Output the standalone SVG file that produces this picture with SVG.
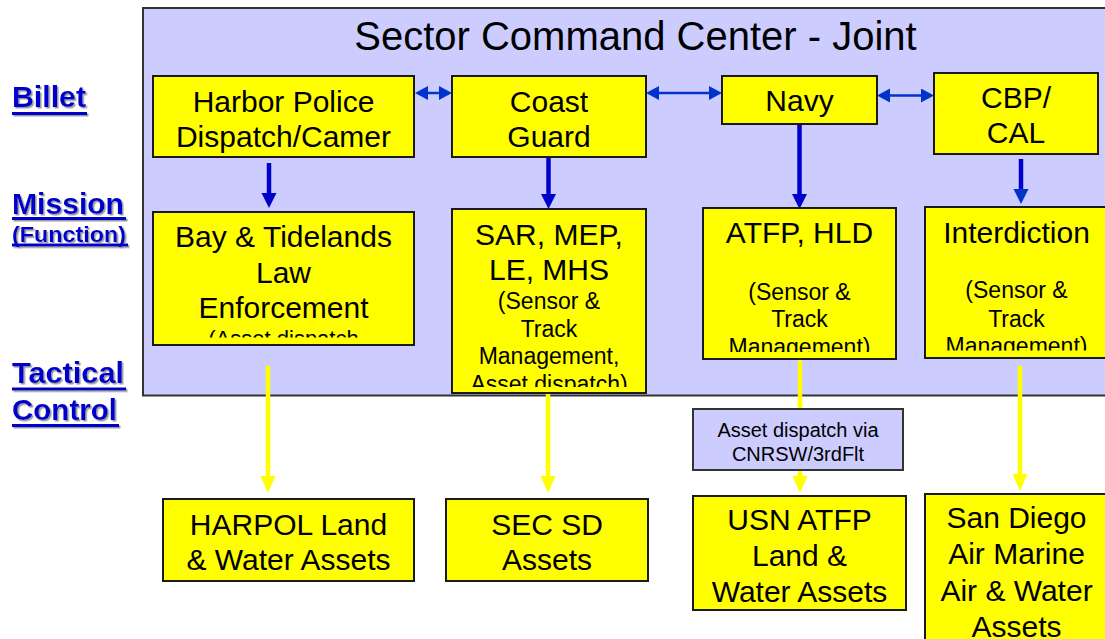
<svg xmlns="http://www.w3.org/2000/svg" width="1105" height="639" viewBox="0 0 1105 639">
<style>
text{font-family:"Liberation Sans",Arial,sans-serif;fill:#000;text-anchor:middle}
.big{font-size:30px}
.sm{font-size:23px}
.title{font-size:40px}
.lbl{font-size:20px}
.side{font-size:29px;font-weight:bold;fill:#0000CC;text-anchor:start}
.sideS{font-size:22.5px;font-weight:bold;fill:#0000CC;text-anchor:start}
.box{fill:#FFFF00;stroke:#1a1a1a;stroke-width:2}
.pane{fill:#CCCCFF;stroke:#333;stroke-width:2}
.ul{fill:#0000CC}
.blue{stroke:#0000CC;stroke-width:4.5;fill:none}
.blue2{stroke:#0033CC;stroke-width:2.5;fill:none}
.yel{stroke:#FFFF00;stroke-width:4.5;fill:none}
</style>
<defs>
<marker id="hb" markerUnits="userSpaceOnUse" markerWidth="16" markerHeight="16" refX="0" refY="7.5" orient="auto"><path d="M0,0 L15,7.5 L0,15 z" fill="#0000CC"/></marker>
<marker id="hb2" markerUnits="userSpaceOnUse" markerWidth="16" markerHeight="16" refX="0" refY="7.5" orient="auto"><path d="M0,0 L15,7.5 L0,15 z" fill="#0033CC"/></marker>
<marker id="hd" markerUnits="userSpaceOnUse" markerWidth="14" markerHeight="15" refX="0" refY="7" orient="auto-start-reverse"><path d="M0,0 L13,7 L0,14 z" fill="#0033CC"/></marker>
<marker id="hy" markerUnits="userSpaceOnUse" markerWidth="18" markerHeight="16" refX="0" refY="7.5" orient="auto"><path d="M0,0 L17,7.5 L0,15 z" fill="#FFFF00"/></marker>
<filter id="sh" x="-10%" y="-10%" width="130%" height="140%"><feDropShadow dx="1.5" dy="1.5" stdDeviation="0.3" flood-color="#9a9a9a" flood-opacity="1"/></filter>
<clipPath id="cBay"><rect x="153" y="212" width="261" height="125.5"/></clipPath>
<clipPath id="cSar"><rect x="452" y="209" width="194" height="178"/></clipPath>
<clipPath id="cAtfp"><rect x="703" y="208" width="193" height="144"/></clipPath>
<clipPath id="cInt"><rect x="925" y="207" width="185" height="143.5"/></clipPath>
</defs>

<g id="side-labels" filter="url(#sh)">
<text class="side" x="12" y="107.3" textLength="74" lengthAdjust="spacingAndGlyphs">Billet</text>
<rect class="ul" x="12" y="112" width="75" height="3"/>
<text class="side" x="12" y="214.3" textLength="112" lengthAdjust="spacingAndGlyphs">Mission</text>
<rect class="ul" x="12" y="217" width="114" height="3"/>
<text class="sideS" x="12" y="241.5" textLength="114" lengthAdjust="spacingAndGlyphs">(Function)</text>
<rect class="ul" x="12" y="243.5" width="116" height="3"/>
<text class="side" x="12" y="383.3" textLength="112" lengthAdjust="spacingAndGlyphs">Tactical</text>
<rect class="ul" x="12" y="387.5" width="114" height="3"/>
<text class="side" x="12" y="420" textLength="105" lengthAdjust="spacingAndGlyphs">Control</text>
<rect class="ul" x="12" y="424" width="107" height="3"/>
</g>

<g id="sector-command-center">
<rect class="pane" x="143" y="8" width="970" height="387.5"/>
<text class="title" x="635.5" y="49.5">Sector Command Center - Joint</text>
</g>

<g id="connectors">
<line class="blue2" x1="428" y1="93" x2="439" y2="93" marker-start="url(#hd)" marker-end="url(#hd)"/>
<line class="blue2" x1="659" y1="93" x2="709" y2="93" marker-start="url(#hd)" marker-end="url(#hd)"/>
<line class="blue2" x1="890" y1="95.5" x2="921" y2="95.5" marker-start="url(#hd)" marker-end="url(#hd)"/>
<line class="blue" x1="269" y1="163" x2="269" y2="193" marker-end="url(#hb)"/>
<line class="blue" x1="548.5" y1="157" x2="548.5" y2="194" marker-end="url(#hb)"/>
<line class="blue" x1="799.5" y1="122" x2="799.5" y2="194" marker-end="url(#hb)"/>
<line class="blue" x1="1021" y1="159" x2="1021" y2="189" marker-end="url(#hb2)"/>
<line class="yel" x1="268" y1="366" x2="268" y2="476" marker-end="url(#hy)"/>
<line class="yel" x1="548" y1="393" x2="548" y2="476" marker-end="url(#hy)"/>
<line class="yel" x1="800" y1="359" x2="800" y2="409"/>
<line class="yel" x1="800" y1="470" x2="800" y2="476" marker-end="url(#hy)"/>
<line class="yel" x1="1020" y1="366" x2="1020" y2="474" marker-end="url(#hy)"/>
</g>

<g id="harbor-police">
<rect class="box" x="153" y="76" width="261" height="81"/>
<text class="big" x="283.5" y="112">Harbor Police</text>
<text class="big" x="283.5" y="146.7">Dispatch/Camer</text>
</g>
<g id="coast-guard">
<rect class="box" x="452" y="76" width="194" height="81"/>
<text class="big" x="549" y="112">Coast</text>
<text class="big" x="549" y="146.7">Guard</text>
</g>
<g id="navy">
<rect class="box" x="722" y="76" width="155" height="48"/>
<text class="big" x="799.5" y="111">Navy</text>
</g>
<g id="cbp-cal">
<rect class="box" x="934" y="73" width="164" height="81"/>
<text class="big" x="1016" y="108">CBP/</text>
<text class="big" x="1016" y="143">CAL</text>
</g>

<g id="bay-tidelands">
<rect class="box" x="153" y="212" width="261" height="133"/>
<g clip-path="url(#cBay)">
<text class="big" x="283.5" y="247.3">Bay &amp; Tidelands</text>
<text class="big" x="283.5" y="282.7">Law</text>
<text class="big" x="283.5" y="318.3">Enforcement</text>
<text class="sm" x="283.5" y="346" style="font-size:22px">(Asset dispatch</text>
</g>
</g>
<g id="sar-mep">
<rect class="box" x="452" y="209" width="194" height="184"/>
<g clip-path="url(#cSar)">
<text class="big" x="549" y="245">SAR, MEP,</text>
<text class="big" x="549" y="280">LE, MHS</text>
<text class="sm" x="549" y="309.3">(Sensor &amp;</text>
<text class="sm" x="549" y="336.7">Track</text>
<text class="sm" x="549" y="364.3">Management,</text>
<text class="sm" x="549" y="392">Asset dispatch)</text>
</g>
</g>
<g id="atfp-hld">
<rect class="box" x="703" y="208" width="193" height="151"/>
<g clip-path="url(#cAtfp)">
<text class="big" x="799.5" y="243.3">ATFP, HLD</text>
<text class="sm" x="799.5" y="300">(Sensor &amp;</text>
<text class="sm" x="799.5" y="327.3">Track</text>
<text class="sm" x="799.5" y="355">Management)</text>
</g>
</g>
<g id="interdiction">
<rect class="box" x="925" y="207" width="185" height="151"/>
<g clip-path="url(#cInt)">
<text class="big" x="1016.5" y="242.5">Interdiction</text>
<text class="sm" x="1016.5" y="298">(Sensor &amp;</text>
<text class="sm" x="1016.5" y="326.5">Track</text>
<text class="sm" x="1016.5" y="354">Management)</text>
</g>
</g>

<g id="asset-dispatch-via">
<rect class="pane" x="693" y="409" width="210" height="61"/>
<text class="lbl" x="798" y="436.7">Asset dispatch via</text>
<text class="lbl" x="798" y="460.7">CNRSW/3rdFlt</text>
</g>

<g id="harpol-assets">
<rect class="box" x="163" y="499" width="251" height="82"/>
<text class="big" x="288.5" y="535">HARPOL Land</text>
<text class="big" x="288.5" y="570">&amp; Water Assets</text>
</g>
<g id="sec-sd-assets">
<rect class="box" x="446" y="499" width="202" height="82"/>
<text class="big" x="547" y="535">SEC SD</text>
<text class="big" x="547" y="570">Assets</text>
</g>
<g id="usn-atfp-assets">
<rect class="box" x="693" y="496" width="213" height="114"/>
<text class="big" x="799.5" y="530">USN ATFP</text>
<text class="big" x="799.5" y="566">Land &amp;</text>
<text class="big" x="799.5" y="601.7">Water Assets</text>
</g>
<g id="san-diego-air-marine">
<rect class="box" x="925" y="494" width="185" height="160"/>
<text class="big" x="1016.5" y="528.3">San Diego</text>
<text class="big" x="1016.5" y="564">Air Marine</text>
<text class="big" x="1016.5" y="600.7">Air &amp; Water</text>
<text class="big" x="1016.5" y="636.5">Assets</text>
</g>
</svg>
